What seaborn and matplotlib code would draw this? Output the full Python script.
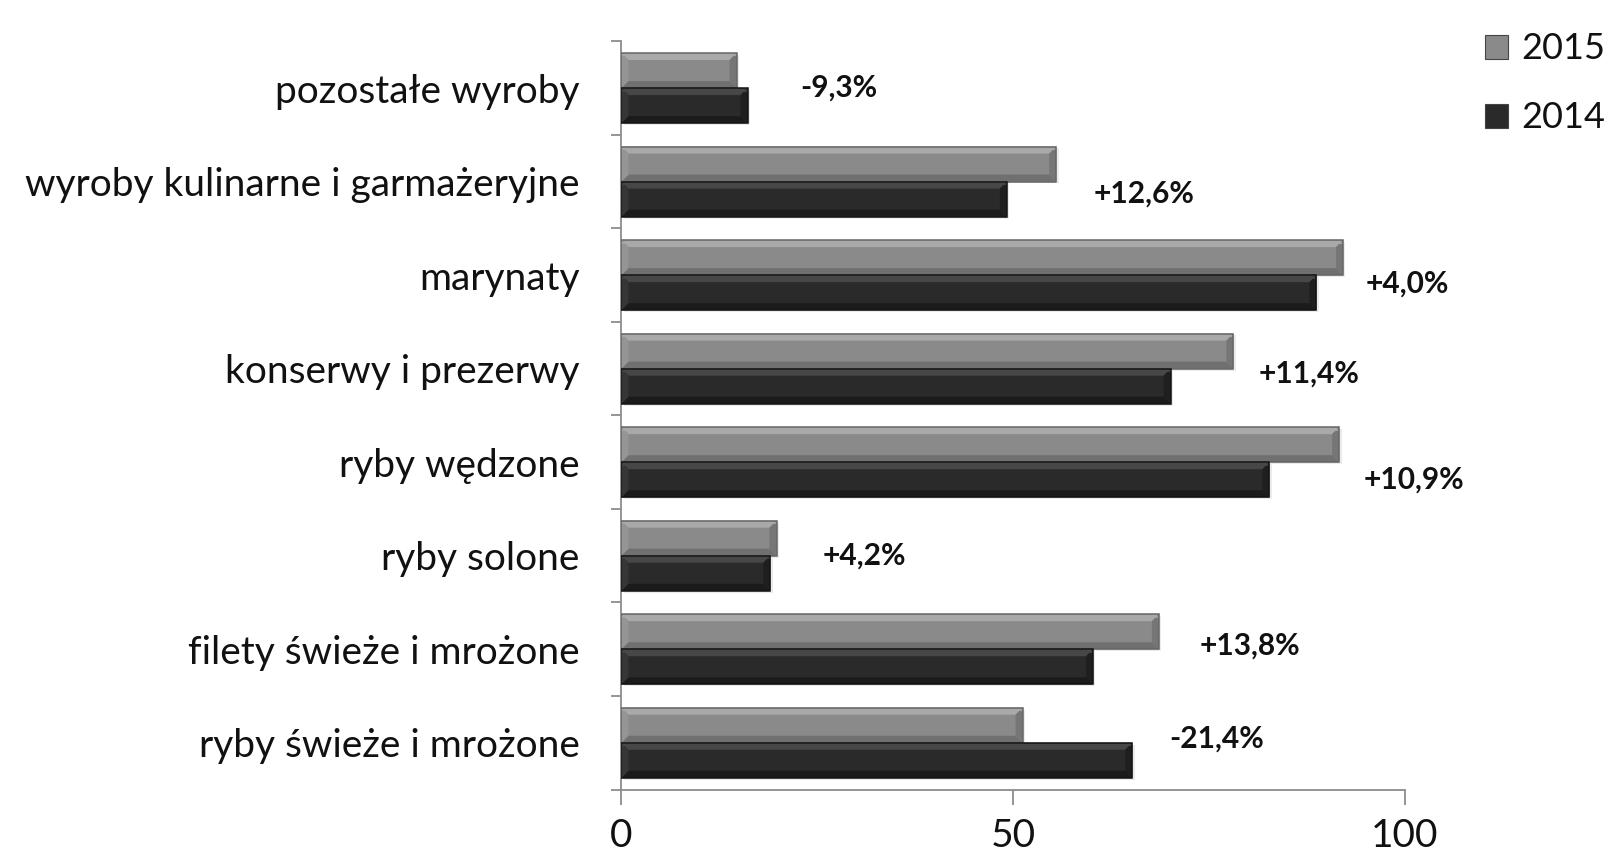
"""
Fish products by category, 2014 vs 2015 - horizontal grouped bars with bevelled look.
"""

import matplotlib.pyplot as plt
import numpy as np
import pandas as pd
import seaborn as sns
from matplotlib.patches import Polygon, Rectangle
from matplotlib.ticker import FixedLocator


CATEGORIES = [
    "pozostałe wyroby",
    "wyroby kulinarne i garmażeryjne",
    "marynaty",
    "konserwy i prezerwy",
    "ryby wędzone",
    "ryby solone",
    "filety świeże i mrożone",
    "ryby świeże i mrożone",
]
VALUES_2015 = [14.7, 55.5, 92.1, 78.1, 91.6, 19.8, 68.6, 51.2]
VALUES_2014 = [16.1, 49.2, 88.7, 70.1, 82.7, 19.0, 60.2, 65.2]
CHANGE_LABELS = ["-9,3%", "+12,6%", "+4,0%", "+11,4%", "+10,9%", "+4,2%", "+13,8%", "-21,4%"]
YEARS = ["2015", "2014"]
X_TICKS = [0, 50, 100]

# where the change labels sit (data units on x, category offset on y)
LABEL_X = [27.7, 66.7, 100.3, 87.8, 101.2, 31.0, 80.2, 76.0]
LABEL_DY = [0.0, 0.13, 0.09, 0.05, 0.19, 0.0, -0.04, -0.05]

FONT = ["Lato", "DejaVu Sans"]
BASE_COLORS = {"2015": "#8a8a8a", "2014": "#2a2a2a"}
# bevel faces: top, bottom, left, right, outline
BEVEL = {
    "2015": ("#a9a9a9", "#707070", "#959595", "#767676", "#666666"),
    "2014": ("#474747", "#1b1b1b", "#363636", "#1f1f1f", "#121212"),
}
BEVEL_X = 0.9   # data units
BEVEL_Y = 0.075  # category units

sns.set_style("white")
plt.rcParams["font.family"] = FONT


def build_frame() -> pd.DataFrame:
    rows = []
    for category, v15, v14 in zip(CATEGORIES, VALUES_2015, VALUES_2014):
        rows.append({"category": category, "year": "2015", "value": v15})
        rows.append({"category": category, "year": "2014", "value": v14})
    return pd.DataFrame(rows)


def add_bevel(ax, patch, year: str) -> None:
    x0, y0 = patch.get_x(), patch.get_y()
    x1, y1 = x0 + patch.get_width(), y0 + patch.get_height()
    bx, by = BEVEL_X, BEVEL_Y
    top, bottom, left, right, outline = BEVEL[year]
    faces = [
        ([(x0, y0), (x1, y0), (x1 - bx, y0 + by), (x0 + bx, y0 + by)], top),
        ([(x0, y1), (x1, y1), (x1 - bx, y1 - by), (x0 + bx, y1 - by)], bottom),
        ([(x0, y0), (x0 + bx, y0 + by), (x0 + bx, y1 - by), (x0, y1)], left),
        ([(x1, y0), (x1 - bx, y0 + by), (x1 - bx, y1 - by), (x1, y1)], right),
    ]
    for points, color in faces:
        ax.add_patch(Polygon(points, closed=True, facecolor=color, edgecolor="none", zorder=3))
    # soft highlight line along the top edge
    ax.plot([x0, x1], [y0 + by * 0.35, y0 + by * 0.35], color=top, lw=1.5, alpha=0.8,
            solid_capstyle="butt", zorder=3.1)
    ax.add_patch(Rectangle((x0, y0), x1 - x0, y1 - y0, fill=False, edgecolor=outline,
                           linewidth=1.1, zorder=4))
    # faint drop shadow
    ax.add_patch(Rectangle((x0 + 0.3, y0 + 0.02), x1 - x0, y1 - y0, facecolor="#000000",
                           alpha=0.08, edgecolor="none", zorder=0.5))


def main() -> None:
    df = build_frame()
    fig = plt.figure(figsize=(16.14, 8.61), dpi=100)
    ax = fig.add_axes([0.385, 0.083, 0.4855, 0.869])

    sns.barplot(
        data=df,
        y="category",
        x="value",
        hue="year",
        hue_order=YEARS,
        order=CATEGORIES,
        orient="h",
        palette=BASE_COLORS,
        width=0.75,
        gap=0,
        saturation=1,
        edgecolor="none",
        legend=False,
        ax=ax,
    )

    n = len(CATEGORIES)
    for patch in list(ax.patches):
        if patch.get_width() <= 0:
            continue
        center = patch.get_y() + patch.get_height() / 2
        year = "2015" if center < round(center) else "2014"
        add_bevel(ax, patch, year)

    for i, label in enumerate(CHANGE_LABELS):
        ax.text(LABEL_X[i], i + LABEL_DY[i], label, ha="center", va="center",
                fontsize=21.5, fontweight="bold", color="#111111", zorder=5)

    ax.set_xlim(0, 100)
    ax.set_ylim(n - 0.5, -0.5)
    ax.set_xticks(X_TICKS)
    ax.set_xticklabels([str(t) for t in X_TICKS])
    ax.set_xlabel("")
    ax.set_ylabel("")

    for side in ["top", "right"]:
        ax.spines[side].set_visible(False)
    for side in ["left", "bottom"]:
        ax.spines[side].set_color("#8c8c8c")
        ax.spines[side].set_linewidth(1.3)

    ax.yaxis.set_minor_locator(FixedLocator(np.arange(-0.5, n, 1.0)))
    ax.tick_params(left=True, bottom=True, which="both")
    ax.tick_params(axis="y", which="major", length=0, pad=30, labelsize=28, labelcolor="#111111")
    ax.tick_params(axis="y", which="minor", length=7, width=1.3, color="#8c8c8c", direction="out")
    ax.tick_params(axis="x", which="major", length=10.5, width=1.3, color="#8c8c8c",
                   direction="out", pad=10, labelsize=28, labelcolor="#111111")

    handles = [
        Rectangle((0, 0), 1, 1, facecolor=BASE_COLORS[y], edgecolor="#444444", linewidth=0.8)
        for y in YEARS
    ]
    fig.legend(
        handles,
        YEARS,
        loc="upper right",
        bbox_to_anchor=(1.0, 0.973),
        frameon=False,
        fontsize=26,
        labelcolor="#111111",
        borderpad=0.1,
        borderaxespad=0.15,
        handlelength=0.65,
        handleheight=0.65,
        handletextpad=0.35,
        labelspacing=1.0,
    )

    fig.savefig("out.png", dpi=100)
    plt.close(fig)


if __name__ == "__main__":
    main()
